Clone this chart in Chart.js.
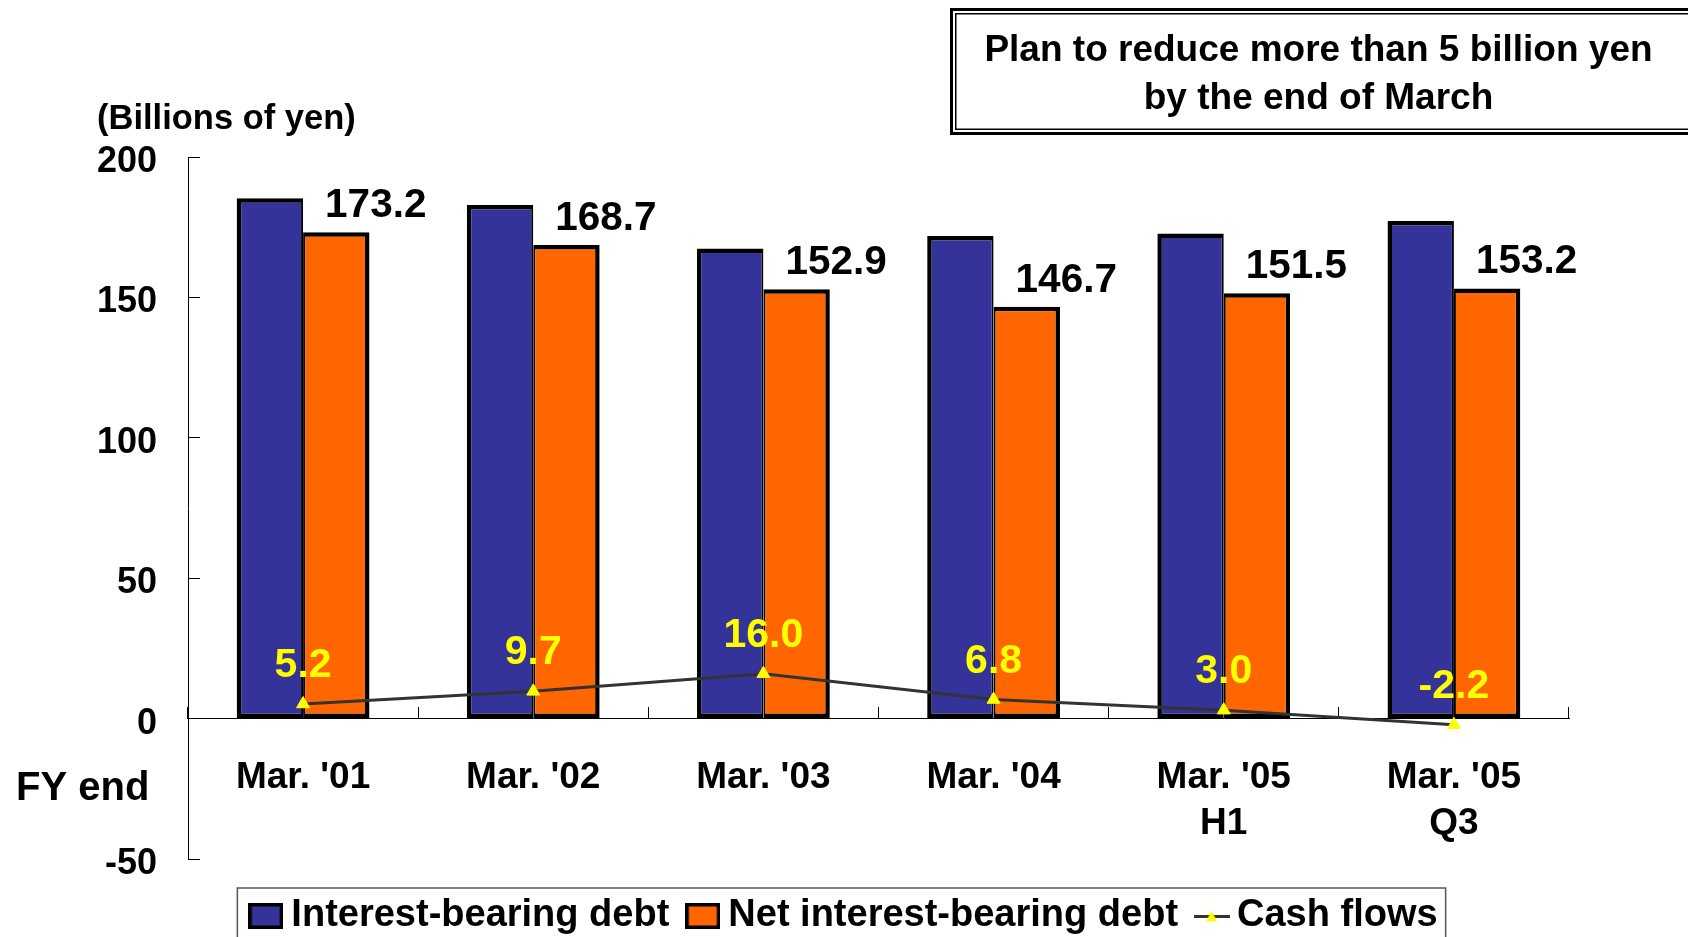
<!DOCTYPE html>
<html>
<head>
<meta charset="utf-8">
<script src="https://cdn.jsdelivr.net/npm/chart.js@4.4.1/dist/chart.umd.min.js"></script>
<style>
  html, body { margin: 0; padding: 0; background: #fff; overflow: hidden; }
  #wrap { position: relative; width: 1688px; height: 937px; overflow: hidden; }
  #myChart { position: absolute; left: 0; top: 0; }
  #planBox {
    position: absolute; left: 950px; top: 8px; width: 745px; height: 127px;
    box-sizing: border-box; border: 3px solid #000;
    box-shadow: inset 0 0 0 2px #fff, inset 0 0 0 3.5px #000;
    font: bold 37px "Liberation Sans", Arial, sans-serif; color: #000;
    text-align: center; line-height: 48px; padding: 14px 8px 0 0;
  }
</style>
</head>
<body>
<div id="wrap">
  <canvas id="myChart" width="1688" height="946"></canvas>
  <div id="planBox">Plan to reduce more than 5 billion yen<br>by the end of March</div>
</div>
<script>
const categories = ["Mar. '01", "Mar. '02", "Mar. '03", "Mar. '04", ["Mar. '05", "H1"], ["Mar. '05", "Q3"]];
const interestDebt = [185.3, 182.9, 167.4, 171.9, 172.8, 177.2];
const netDebt = [173.2, 168.7, 152.9, 146.7, 151.5, 153.2];
const cashFlows = [5.2, 9.7, 16.0, 6.8, 3.0, -2.2];
const yTicks = { min: -50, max: 200, step: 50 };

const FONT = '"Liberation Sans", Arial, sans-serif';
const BLUE = '#333399', ORANGE = '#ff6600', YELLOW = '#ffff00', LINE = '#333333';
Chart.defaults.font.family = FONT;
Chart.defaults.color = '#000';

// legend symbols drawn once on small canvases
function swatch(color) {
    const cv = document.createElement('canvas');
    cv.width = 35; cv.height = 26;
    const c = cv.getContext('2d');
    c.fillStyle = '#000';
    c.fillRect(0, 0, 35, 26);
    c.fillStyle = color;
    c.fillRect(3.5, 3.5, 28, 19);
    return cv;
}
const cashIcon = document.createElement('canvas');
cashIcon.width = 36;
cashIcon.height = 14;
(function () {
    const c = cashIcon.getContext('2d');
    c.strokeStyle = LINE;
    c.lineWidth = 3;
    c.beginPath(); c.moveTo(0, 7.5); c.lineTo(36, 7.5); c.stroke();
    c.fillStyle = YELLOW;
    c.beginPath(); c.moveTo(18, 1.5); c.lineTo(23.5, 12.5); c.lineTo(12.5, 12.5); c.closePath(); c.fill();
})();
const legendIcons = [swatch(BLUE), swatch(ORANGE), cashIcon];

const valueLabels = {
    id: 'valueLabels',
    afterDatasetsDraw(chart) {
        const ctx = chart.ctx;
        ctx.save();
        ctx.textBaseline = 'alphabetic';

        ctx.font = 'bold 40.5px ' + FONT;
        ctx.fillStyle = '#000';
        ctx.textAlign = 'left';
        chart.getDatasetMeta(1).data.forEach((bar, i) => {
            ctx.fillText(netDebt[i].toFixed(1), bar.x - bar.width / 2 + 22, bar.y - 15);
        });

        ctx.font = 'bold 41px ' + FONT;
        ctx.fillStyle = YELLOW;
        ctx.textAlign = 'center';
        chart.getDatasetMeta(2).data.forEach((pt, i) => {
            ctx.fillText(cashFlows[i].toFixed(1), pt.x, pt.y - 27);
        });

        // unit and axis captions
        ctx.fillStyle = '#000';
        ctx.textAlign = 'left';
        ctx.font = 'bold 34.5px ' + FONT;
        ctx.fillText('(Billions of yen)', 97, 129);
        ctx.font = 'bold 40px ' + FONT;
        ctx.fillText('FY end', 16, 800);
        ctx.restore();
    }
};

const legendFrame = {
    id: 'legendFrame',
    afterLayout(chart) {
        // centre the legend on the whole canvas, not on the padded area
        const lg = chart.legend;
        lg.left = 9;
        lg.right = chart.width;
        lg.width = chart.width - 9;
    },
    afterDraw(chart) {
        const boxes = chart.legend && chart.legend.legendHitBoxes;
        if (!boxes || !boxes.length) return;
        const first = boxes[0], last = boxes[boxes.length - 1];
        const ctx = chart.ctx;
        ctx.save();
        ctx.strokeStyle = '#555';
        ctx.lineWidth = 1.5;
        const x0 = first.left - 22;
        ctx.strokeRect(x0, first.top - 9, last.left + last.width + 8 - x0, 80);
        ctx.restore();
    }
};

new Chart(document.getElementById('myChart'), {
    type: 'bar',
    data: {
        labels: categories,
        datasets: [
            {
                label: 'Interest-bearing debt',
                data: interestDebt,
                backgroundColor: BLUE,
                borderColor: '#000',
                borderWidth: { left: 4.5, top: 4.5, bottom: 4.5, right: 2 },
                borderSkipped: false,
                order: 1
            },
            {
                label: 'Net interest-bearing debt',
                data: netDebt,
                backgroundColor: ORANGE,
                borderColor: '#000',
                borderWidth: { left: 2, top: 4.5, bottom: 4.5, right: 4.5 },
                borderSkipped: false,
                order: 1
            },
            {
                type: 'line',
                label: 'Cash flows',
                data: cashFlows,
                borderColor: LINE,
                backgroundColor: YELLOW,
                borderWidth: 3,
                tension: 0,
                pointStyle: 'triangle',
                pointRadius: 7.5,
                pointBackgroundColor: YELLOW,
                pointBorderColor: YELLOW,
                pointBorderWidth: 1,
                order: 0
            }
        ]
    },
    options: {
        responsive: false,
        animation: false,
        devicePixelRatio: 1,
        layout: { padding: { left: 0, right: 119, top: 157, bottom: 1 } },
        datasets: {
            bar: { categoryPercentage: 0.577, barPercentage: 1 }
        },
        scales: {
            y: {
                min: yTicks.min,
                max: yTicks.max,
                afterFit(scale) { scale.width = 188; },
                ticks: {
                    stepSize: yTicks.step,
                    padding: 43,
                    // empty first line nudges the number a little below its tick
                    callback: v => ['', String(v)],
                    font: { size: 36, weight: 'bold', lineHeight: 0.28 },
                    color: '#000'
                },
                grid: { drawOnChartArea: false, tickLength: -12, color: '#000', lineWidth: 1 },
                border: { color: '#000', width: 1 }
            },
            x: {
                position: { y: 0 },
                ticks: {
                    padding: 48,
                    font: { size: 37, weight: 'bold', lineHeight: 1.25 },
                    color: '#000',
                    maxRotation: 0,
                    autoSkip: false
                },
                grid: { offset: true, drawOnChartArea: false, tickLength: -12, color: '#000', lineWidth: 1 },
                border: { color: '#000', width: 1 }
            }
        },
        plugins: {
            tooltip: { enabled: false },
            legend: {
                position: 'bottom',
                title: { display: true, text: '', font: { size: 9, lineHeight: 1.222 }, padding: 0 },
                labels: {
                    usePointStyle: true,
                    pointStyleWidth: 13,
                    boxHeight: 26,
                    padding: 27,
                    color: '#000',
                    font: { size: 38, weight: 'bold' },
                    sort: (a, b) => a.datasetIndex - b.datasetIndex,
                    generateLabels(chart) {
                        const items = Chart.defaults.plugins.legend.labels.generateLabels(chart);
                        items.forEach(item => {
                            item.pointStyle = legendIcons[item.datasetIndex];
                            item.lineWidth = 0;
                        });
                        return items;
                    }
                }
            }
        }
    },
    plugins: [valueLabels, legendFrame]
});
</script>
</body>
</html>
